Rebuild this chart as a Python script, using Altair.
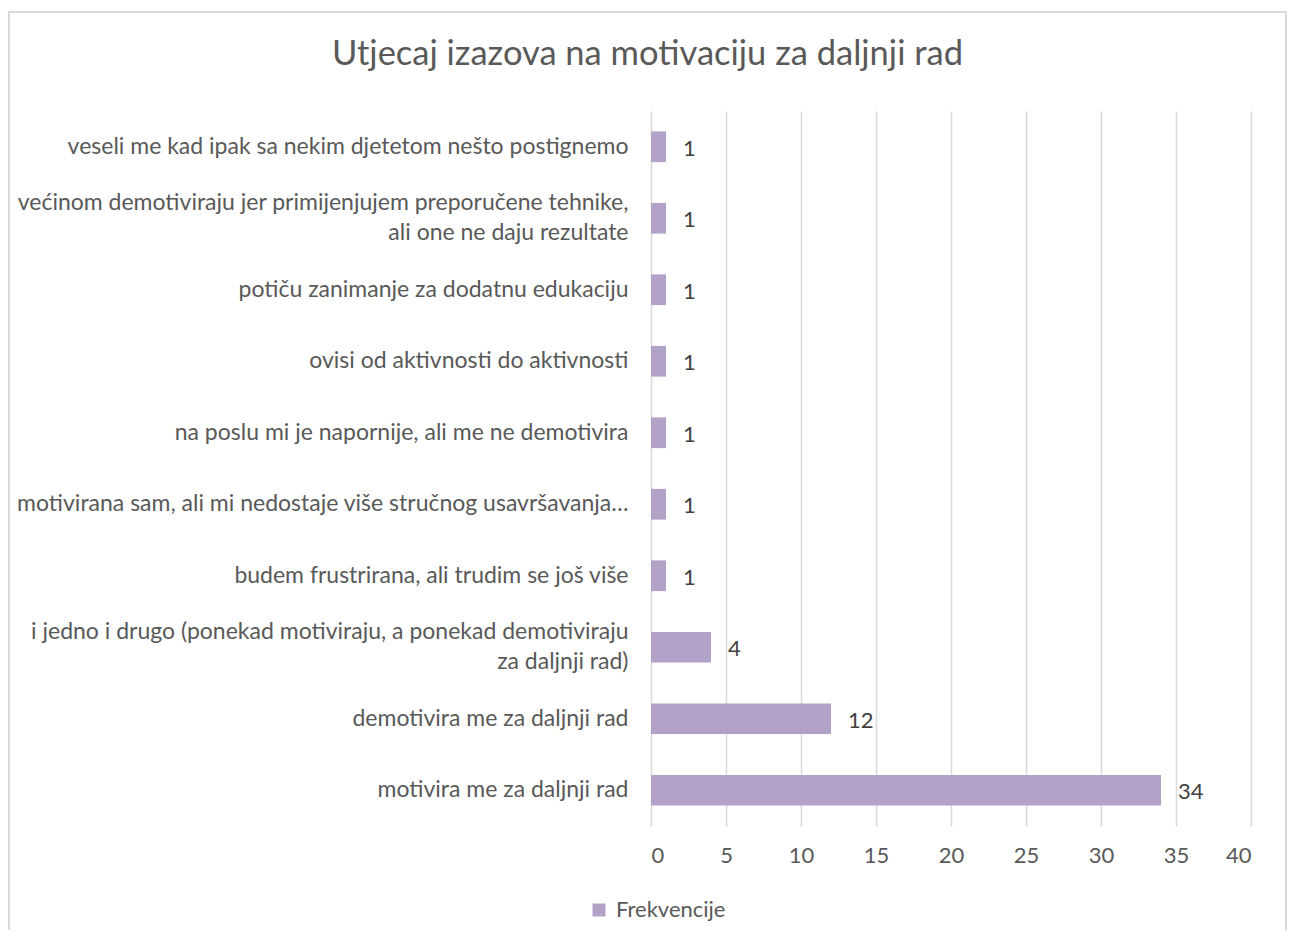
import altair as alt
import pandas as pd

categories = [
    "veseli me kad ipak sa nekim djetetom nešto postignemo",
    "većinom demotiviraju jer primijenjujem preporučene tehnike,\nali one ne daju rezultate",
    "potiču zanimanje za dodatnu edukaciju",
    "ovisi od aktivnosti do aktivnosti",
    "na poslu mi je napornije, ali me ne demotivira",
    "motivirana sam, ali mi nedostaje više stručnog usavršavanja…",
    "budem frustrirana, ali trudim se još više",
    "i jedno i drugo (ponekad motiviraju, a ponekad demotiviraju\nza daljnji rad)",
    "demotivira me za daljnji rad",
    "motivira me za daljnji rad",
]
values = [1, 1, 1, 1, 1, 1, 1, 4, 12, 34]
series_name = "Frekvencije"
x_ticks = [0, 5, 10, 15, 20, 25, 30, 35, 40]
title_text = "Utjecaj izazova na motivaciju za daljnji rad"

FONT = "Lato"
BAR = "#B3A2C7"
TXT = "#595959"
GRID = "#D9D9D9"

df = pd.DataFrame({"kategorija": categories, "vrijednost": values, "serija": series_name})

y_enc = alt.Y(
    "kategorija:N",
    sort=categories,
    scale=alt.Scale(paddingInner=0.57, paddingOuter=0.285),
    axis=alt.Axis(
        title=None,
        domain=False,
        ticks=False,
        tickSize=0,
        grid=False,
        labelPadding=23,
        labelFont=FONT,
        labelFontSize=23,
        labelColor=TXT,
        labelLimit=0,
        labelLineHeight=30,
        labelExpr="split(datum.label, '\\n')",
        labelOffset={
            "condition": {"test": "indexof(datum.value, '\\n') >= 0", "value": -15},
            "value": 0,
        },
    ),
)
x_enc = alt.X(
    "vrijednost:Q",
    scale=alt.Scale(domain=[0, 40], nice=False),
    axis=alt.Axis(
        title=None,
        values=x_ticks,
        domain=False,
        ticks=False,
        tickSize=0,
        grid=True,
        gridColor=GRID,
        gridWidth=1.5,
        labelPadding=19,
        labelFont=FONT,
        labelFontSize=22,
        labelColor=TXT,
    ),
)

bars = alt.Chart(df).mark_bar().encode(
    y=y_enc,
    x=x_enc,
    color=alt.Color(
        "serija:N",
        scale=alt.Scale(domain=[series_name], range=[BAR]),
        legend=alt.Legend(
            title=None,
            orient="none",
            legendX=-63,
            legendY=788,
            symbolType="square",
            symbolSize=169,
            symbolStrokeWidth=0,
            labelFont=FONT,
            labelFontSize=22,
            labelColor=TXT,
            labelOffset=6,
        ),
    ),
)

labels = alt.Chart(df).mark_text(
    align="left", baseline="middle", dx=17, dy=2, font=FONT, fontSize=22, color="#404040"
).encode(
    y=alt.Y("kategorija:N", sort=categories),
    x=alt.X("vrijednost:Q"),
    text=alt.Text("vrijednost:Q"),
)

border = alt.Chart(pd.DataFrame({"b": [0]})).mark_rect(
    filled=False, stroke=GRID, strokeWidth=2
).encode(
    x=alt.value(-642), x2=alt.value(635), y=alt.value(-99), y2=alt.value(840)
)

chart = alt.layer(border, bars, labels).properties(
    width=600,
    height=715,
    background="white",
    autosize=alt.AutoSizeParams(type="none"),
    padding={"left": 643, "top": 103, "right": 36, "bottom": 104},
    title=alt.TitleParams(
        title_text,
        font=FONT,
        fontSize=34.5,
        fontWeight="normal",
        color=TXT,
        anchor="middle",
        frame="bounds",
        offset=-88,
        baseline="alphabetic",
    ),
).configure_view(stroke=None)

chart.save("out.html", embed_options={"renderer": "svg", "actions": False})
